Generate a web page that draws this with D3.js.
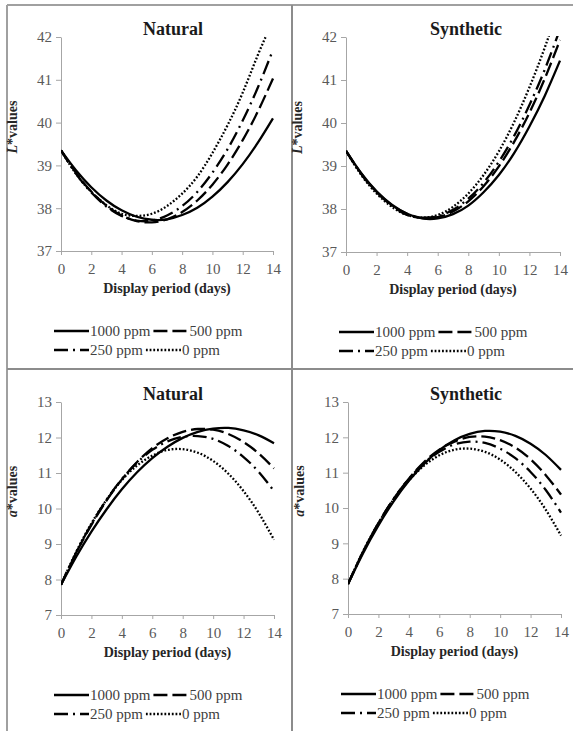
<!DOCTYPE html>
<html>
<head>
<meta charset="utf-8">
<script src="https://cdn.jsdelivr.net/npm/d3@7"></script>
<style>
  body { margin: 0; background: #fff; }
  text { font-family: "Liberation Serif", "Times New Roman", serif; }
</style>
</head>
<body>
<script>
const days = [0, 1, 2, 3, 4, 5, 6, 7, 8, 9, 10, 11, 12, 13, 14];
const dayTicks = [0, 2, 4, 6, 8, 10, 12, 14];
const lTicks = [37, 38, 39, 40, 41, 42];
const aTicks = [7, 8, 9, 10, 11, 12, 13];
const seriesNames = ['1000 ppm', '500 ppm', '250 ppm', '0 ppm'];

// L* values, natural
const natL1000 = [39.35, 38.88, 38.49, 38.18, 37.95, 37.80, 37.73, 37.74, 37.84, 38.01, 38.27, 38.61, 39.03, 39.53, 40.10];
const natL500  = [39.35, 38.82, 38.39, 38.06, 37.83, 37.70, 37.67, 37.74, 37.91, 38.18, 38.55, 39.02, 39.59, 40.26, 41.03];
const natL250  = [39.35, 38.80, 38.37, 38.04, 37.82, 37.71, 37.71, 37.83, 38.05, 38.38, 38.83, 39.38, 40.05, 40.82, 41.70];
const natL0    = [39.35, 38.80, 38.38, 38.07, 37.87, 37.82, 37.87, 38.05, 38.34, 38.74, 39.29, 39.94, 40.70, 41.58, 42.38];

// L* values, synthetic
const synL1000 = [39.35, 38.83, 38.41, 38.10, 37.89, 37.78, 37.78, 37.88, 38.08, 38.39, 38.79, 39.30, 39.92, 40.63, 41.45];
const synL500  = [39.35, 38.82, 38.40, 38.09, 37.89, 37.79, 37.81, 37.94, 38.18, 38.53, 38.99, 39.56, 40.24, 41.03, 41.93];
const synL250  = [39.35, 38.81, 38.39, 38.08, 37.86, 37.80, 37.83, 37.98, 38.24, 38.61, 39.10, 39.70, 40.42, 41.24, 42.18];
const synL0    = [39.35, 38.79, 38.36, 38.05, 37.86, 37.80, 37.86, 38.05, 38.36, 38.79, 39.34, 40.02, 40.83, 41.75, 42.80];

// a* values, natural
const natA1000 = [7.85, 8.64, 9.35, 9.98, 10.54, 11.02, 11.42, 11.74, 11.99, 12.16, 12.25, 12.27, 12.20, 12.06, 11.84];
const natA500  = [7.85, 8.75, 9.54, 10.23, 10.82, 11.31, 11.70, 11.98, 12.16, 12.24, 12.22, 12.10, 11.87, 11.55, 11.13];
const natA250  = [7.85, 8.76, 9.56, 10.25, 10.83, 11.29, 11.65, 11.89, 12.02, 12.04, 11.96, 11.76, 11.45, 11.03, 10.49];
const natA0    = [7.85, 8.78, 9.58, 10.25, 10.80, 11.21, 11.49, 11.65, 11.67, 11.57, 11.34, 10.98, 10.49, 9.87, 9.12];

// a* values, synthetic
const synA1000 = [7.85, 8.73, 9.51, 10.19, 10.77, 11.25, 11.64, 11.92, 12.10, 12.18, 12.16, 12.04, 11.82, 11.50, 11.08];
const synA500  = [7.85, 8.77, 9.57, 10.26, 10.83, 11.30, 11.65, 11.88, 12.01, 12.02, 11.92, 11.71, 11.38, 10.93, 10.38];
const synA250  = [7.85, 8.77, 9.57, 10.26, 10.82, 11.27, 11.59, 11.80, 11.88, 11.84, 11.68, 11.41, 11.02, 10.51, 9.87];
const synA0    = [7.85, 8.78, 9.57, 10.24, 10.78, 11.20, 11.49, 11.65, 11.68, 11.59, 11.37, 11.02, 10.55, 9.95, 9.22];

// line styles for 1000 / 500 / 250 / 0 ppm
const dashes = [null, '14,5', '14,5,2,5', '1.8,1.9'];

const svg = d3.select('body')
    .append('svg')
    .attr('width', 573)
    .attr('height', 731);

const panels = [
    {title: 'Natural', titleX: 173, xr: [61, 273], yr: [251, 37], ticks: lTicks, letter: 'L',
     series: [natL1000, natL500, natL250, natL0]},
    {title: 'Synthetic', titleX: 466, xr: [346, 560], yr: [252, 37], ticks: lTicks, letter: 'L',
     series: [synL1000, synL500, synL250, synL0]},
    {title: 'Natural', titleX: 173, xr: [61, 274], yr: [615, 402], ticks: aTicks, letter: 'a',
     series: [natA1000, natA500, natA250, natA0]},
    {title: 'Synthetic', titleX: 466, xr: [348, 561], yr: [614, 402], ticks: aTicks, letter: 'a',
     series: [synA1000, synA500, synA250, synA0]}
];

drawFrame();
panels.forEach((p, i) => drawPanel(p, i));

function drawFrame() {
    const g = svg.append('g').attr('stroke', '#8c8c8c').attr('stroke-width', 2);
    g.append('line').attr('x1', 7).attr('x2', 573).attr('y1', 5).attr('y2', 5).attr('stroke', '#a0a0a0');
    g.append('line').attr('x1', 7).attr('x2', 7).attr('y1', 5).attr('y2', 731).attr('stroke', '#a0a0a0');
    g.append('line').attr('x1', 292).attr('x2', 292).attr('y1', 5).attr('y2', 731);
    g.append('line').attr('x1', 7).attr('x2', 573).attr('y1', 369).attr('y2', 369);
}

function drawPanel(p, i) {
    const x = d3.scaleLinear().domain([0, 14]).range(p.xr);
    const y = d3.scaleLinear().domain(d3.extent(p.ticks)).range(p.yr);
    const g = svg.append('g');

    // axes
    const axX = g.append('g')
        .attr('transform', `translate(0, ${p.yr[0]})`)
        .call(d3.axisBottom(x).tickValues(dayTicks).tickFormat(d3.format('d'))
            .tickSize(4).tickPadding(8).tickSizeOuter(0));
    const axY = g.append('g')
        .attr('transform', `translate(${p.xr[0]}, 0)`)
        .call(d3.axisLeft(y).tickValues(p.ticks).tickFormat(d3.format('d'))
            .tickSize(5).tickPadding(4).tickSizeOuter(0));
    [axX, axY].forEach(ax => {
        ax.attr('font-family', '"Liberation Serif", serif').attr('font-size', 15);
        ax.select('.domain').attr('stroke', '#a6a6a6').attr('stroke-width', 1);
        ax.selectAll('.tick line').attr('stroke', '#a6a6a6');
        ax.selectAll('.tick text').attr('fill', '#595959');
    });
    axX.selectAll('.tick text').attr('dy', '0.71em');

    // clip to plot area
    const clipId = `clip${i}`;
    g.append('clipPath').attr('id', clipId)
        .append('rect')
        .attr('x', p.xr[0]).attr('y', p.yr[1] - 1)
        .attr('width', p.xr[1] - p.xr[0] + 3).attr('height', p.yr[0] - p.yr[1] + 1);

    const line = d3.line()
        .x((d, j) => x(days[j]))
        .y(d => y(d))
        .curve(d3.curveNatural);

    g.append('g').attr('clip-path', `url(#${clipId})`)
        .selectAll('path')
        .data(p.series)
        .enter()
        .append('path')
        .attr('d', line)
        .attr('fill', 'none')
        .attr('stroke', '#000')
        .attr('stroke-width', 2.3)
        .attr('stroke-dasharray', (d, j) => dashes[j]);

    // title
    g.append('text')
        .attr('x', p.titleX).attr('y', p.yr[1] - 2)
        .attr('text-anchor', 'middle')
        .style('font-size', '18px').style('font-weight', 'bold')
        .attr('fill', '#1a1a1a')
        .text(p.title);

    // x axis title
    g.append('text')
        .attr('x', (p.xr[0] + p.xr[1]) / 2).attr('y', p.yr[0] + 42)
        .attr('text-anchor', 'middle')
        .style('font-size', '14px').style('font-weight', 'bold')
        .attr('fill', '#262626')
        .text('Display period (days)');

    // y axis title
    const yt = g.append('text')
        .attr('transform', `translate(${p.xr[0] - 44}, ${(p.yr[0] + p.yr[1]) / 2 - 17}) rotate(-90)`)
        .attr('text-anchor', 'middle')
        .style('font-size', '14px').style('font-weight', 'bold')
        .attr('fill', '#262626');
    yt.append('tspan').style('font-style', 'italic').text(p.letter);
    yt.append('tspan').text('*values');

    // legend
    const rows = [[0, 1], [2, 3]];
    rows.forEach((row, r) => {
        let lx = p.xr[0] - 7;
        const ly = p.yr[0] + 80 + r * 19;
        row.forEach(k => {
            g.append('line')
                .attr('x1', lx).attr('x2', lx + 35)
                .attr('y1', ly).attr('y2', ly)
                .attr('stroke', '#000').attr('stroke-width', 2.3)
                .attr('stroke-dasharray', dashes[k]);
            const t = g.append('text')
                .attr('x', lx + 36).attr('y', ly + 5)
                .style('font-size', '15px')
                .attr('fill', '#404040')
                .text(seriesNames[k]);
            lx = lx + 36 + t.node().getComputedTextLength() + 3;
        });
    });
}
</script>
</body>
</html>
